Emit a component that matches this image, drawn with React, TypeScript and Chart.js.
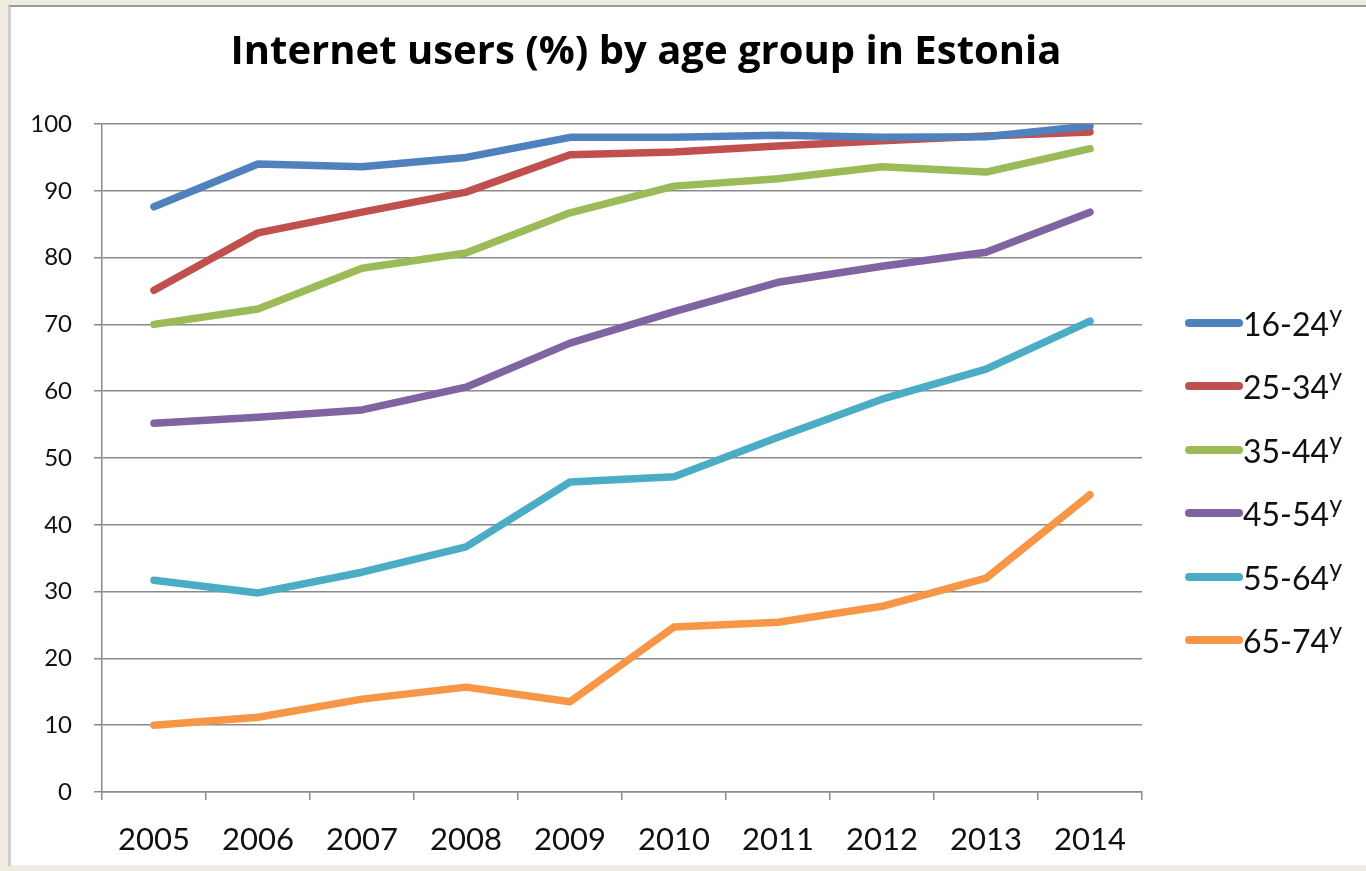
import React, { useEffect, useRef } from "react";
import { Chart, registerables } from "chart.js";

Chart.register(...registerables);

const years = ["2005", "2006", "2007", "2008", "2009", "2010", "2011", "2012", "2013", "2014"];
const seriesLabels = ["16-24", "25-34", "35-44", "45-54", "55-64", "65-74"];
const labelSuffix = "y";
const seriesColors = ["#4F81BD", "#C0504D", "#9BBB59", "#8064A2", "#4BACC6", "#F79646"];

const age16_24 = [87.6, 94.0, 93.6, 95.0, 98.0, 98.0, 98.3, 98.0, 98.1, 99.7];
const age25_34 = [75.1, 83.7, 86.8, 89.8, 95.4, 95.8, 96.7, 97.5, 98.2, 98.8];
const age35_44 = [70.0, 72.3, 78.4, 80.7, 86.7, 90.7, 91.8, 93.6, 92.8, 96.3];
const age45_54 = [55.2, 56.1, 57.2, 60.6, 67.2, 71.9, 76.3, 78.7, 80.8, 86.8];
const age55_64 = [31.7, 29.8, 32.9, 36.7, 46.4, 47.2, 53.1, 58.8, 63.3, 70.5];
const age65_74 = [10.0, 11.2, 13.9, 15.7, 13.5, 24.7, 25.4, 27.8, 32.0, 44.5];
const seriesValues = [age16_24, age25_34, age35_44, age45_54, age55_64, age65_74];

const yTickMin = 0;
const yTickMax = 100;
const yTickStep = 10;

const titleText = "Internet users (%) by age group in Estonia";

const FONT = "Lato, 'Noto Sans', sans-serif";
const TITLE_FONT = "'Open Sans', Lato, sans-serif";

export default function App() {
  const canvasRef = useRef<HTMLCanvasElement | null>(null);

  useEffect(() => {
    const canvas = canvasRef.current;
    if (!canvas) return;
    const titleShift = {
      id: "titleShift",
      afterLayout(chart: any) {
        const tb = chart.titleBlock;
        if (tb) {
          tb.left += 69;
          tb.right += 69;
        }
      },
    };
    const chart = new Chart(canvas, {
      type: "line",
      data: {
        labels: years,
        datasets: seriesLabels.map((lab, i) => ({
          label: lab,
          data: seriesValues[i],
          borderColor: seriesColors[i],
          backgroundColor: seriesColors[i],
          borderWidth: 7.5,
          pointRadius: 0,
          pointHoverRadius: 0,
          tension: 0,
          borderJoinStyle: "round" as const,
          borderCapStyle: "round" as const,
          fill: false,
        })),
      },
      options: {
        animation: false,
        responsive: false,
        maintainAspectRatio: false,
        layout: { padding: { left: 0, right: 224, top: 0, bottom: 0 } },
        plugins: {
          legend: { display: false },
          tooltip: { enabled: false },
          title: {
            display: true,
            text: titleText,
            color: "#000",
            font: { family: TITLE_FONT, size: 40, weight: "bold" },
            padding: { top: 21, bottom: 47 },
          },
        },
        scales: {
          x: {
            type: "category",
            offset: true,
            grid: {
              offset: true,
              drawOnChartArea: false,
              drawTicks: true,
              tickLength: 8,
              color: "#8a8a8a",
              lineWidth: 1.5,
            },
            border: { display: true, color: "#8a8a8a", width: 1.5 },
            ticks: {
              color: "#111",
              font: { family: FONT, size: 31 },
              padding: 21,
              maxRotation: 0,
              autoSkip: false,
            },
            afterFit(scale: any) {
              scale.height = 71;
            },
          },
          y: {
            min: yTickMin,
            max: yTickMax,
            ticks: {
              stepSize: yTickStep,
              color: "#111",
              font: { family: FONT, size: 24 },
              padding: 22,
            },
            grid: {
              color: "#8a8a8a",
              lineWidth: 1.5,
              tickLength: 8,
              drawTicks: true,
            },
            border: { display: true, color: "#8a8a8a", width: 1.5 },
            afterFit(scale: any) {
              scale.width = 90;
            },
          },
        },
      },
      plugins: [titleShift],
    });
    return () => chart.destroy();
  }, []);

  return (
    <div style={{ position: "fixed", inset: 0, background: "#f1ece2", overflow: "hidden" }}>
      <div
        style={{
          position: "absolute",
          left: 8,
          top: 5,
          width: 1400,
          height: 858,
          background: "#fff",
          borderTop: "2px solid #9a9a9a",
          borderLeft: "3px solid #cfcfcf",
          borderBottom: "2px solid #ececec",
        }}
      />
      <canvas
        ref={canvasRef}
        width={1354}
        height={855}
        style={{ position: "absolute", left: 12, top: 8, width: 1354, height: 855 }}
      />
      <div style={{ position: "absolute", left: 1185, top: 293, fontFamily: FONT, color: "#111" }}>
        {seriesLabels.map((lab, i) => (
          <div key={lab} style={{ height: 63.5, display: "flex", alignItems: "center" }}>
            <span
              style={{
                display: "inline-block",
                width: 58,
                height: 8,
                borderRadius: 4,
                background: seriesColors[i],
                marginTop: -4,
              }}
            />
            <span style={{ fontSize: 32, lineHeight: "38px" }}>
              {lab}
              <span style={{ fontSize: 25, position: "relative", top: -13 }}>{labelSuffix}</span>
            </span>
          </div>
        ))}
      </div>
    </div>
  );
}
